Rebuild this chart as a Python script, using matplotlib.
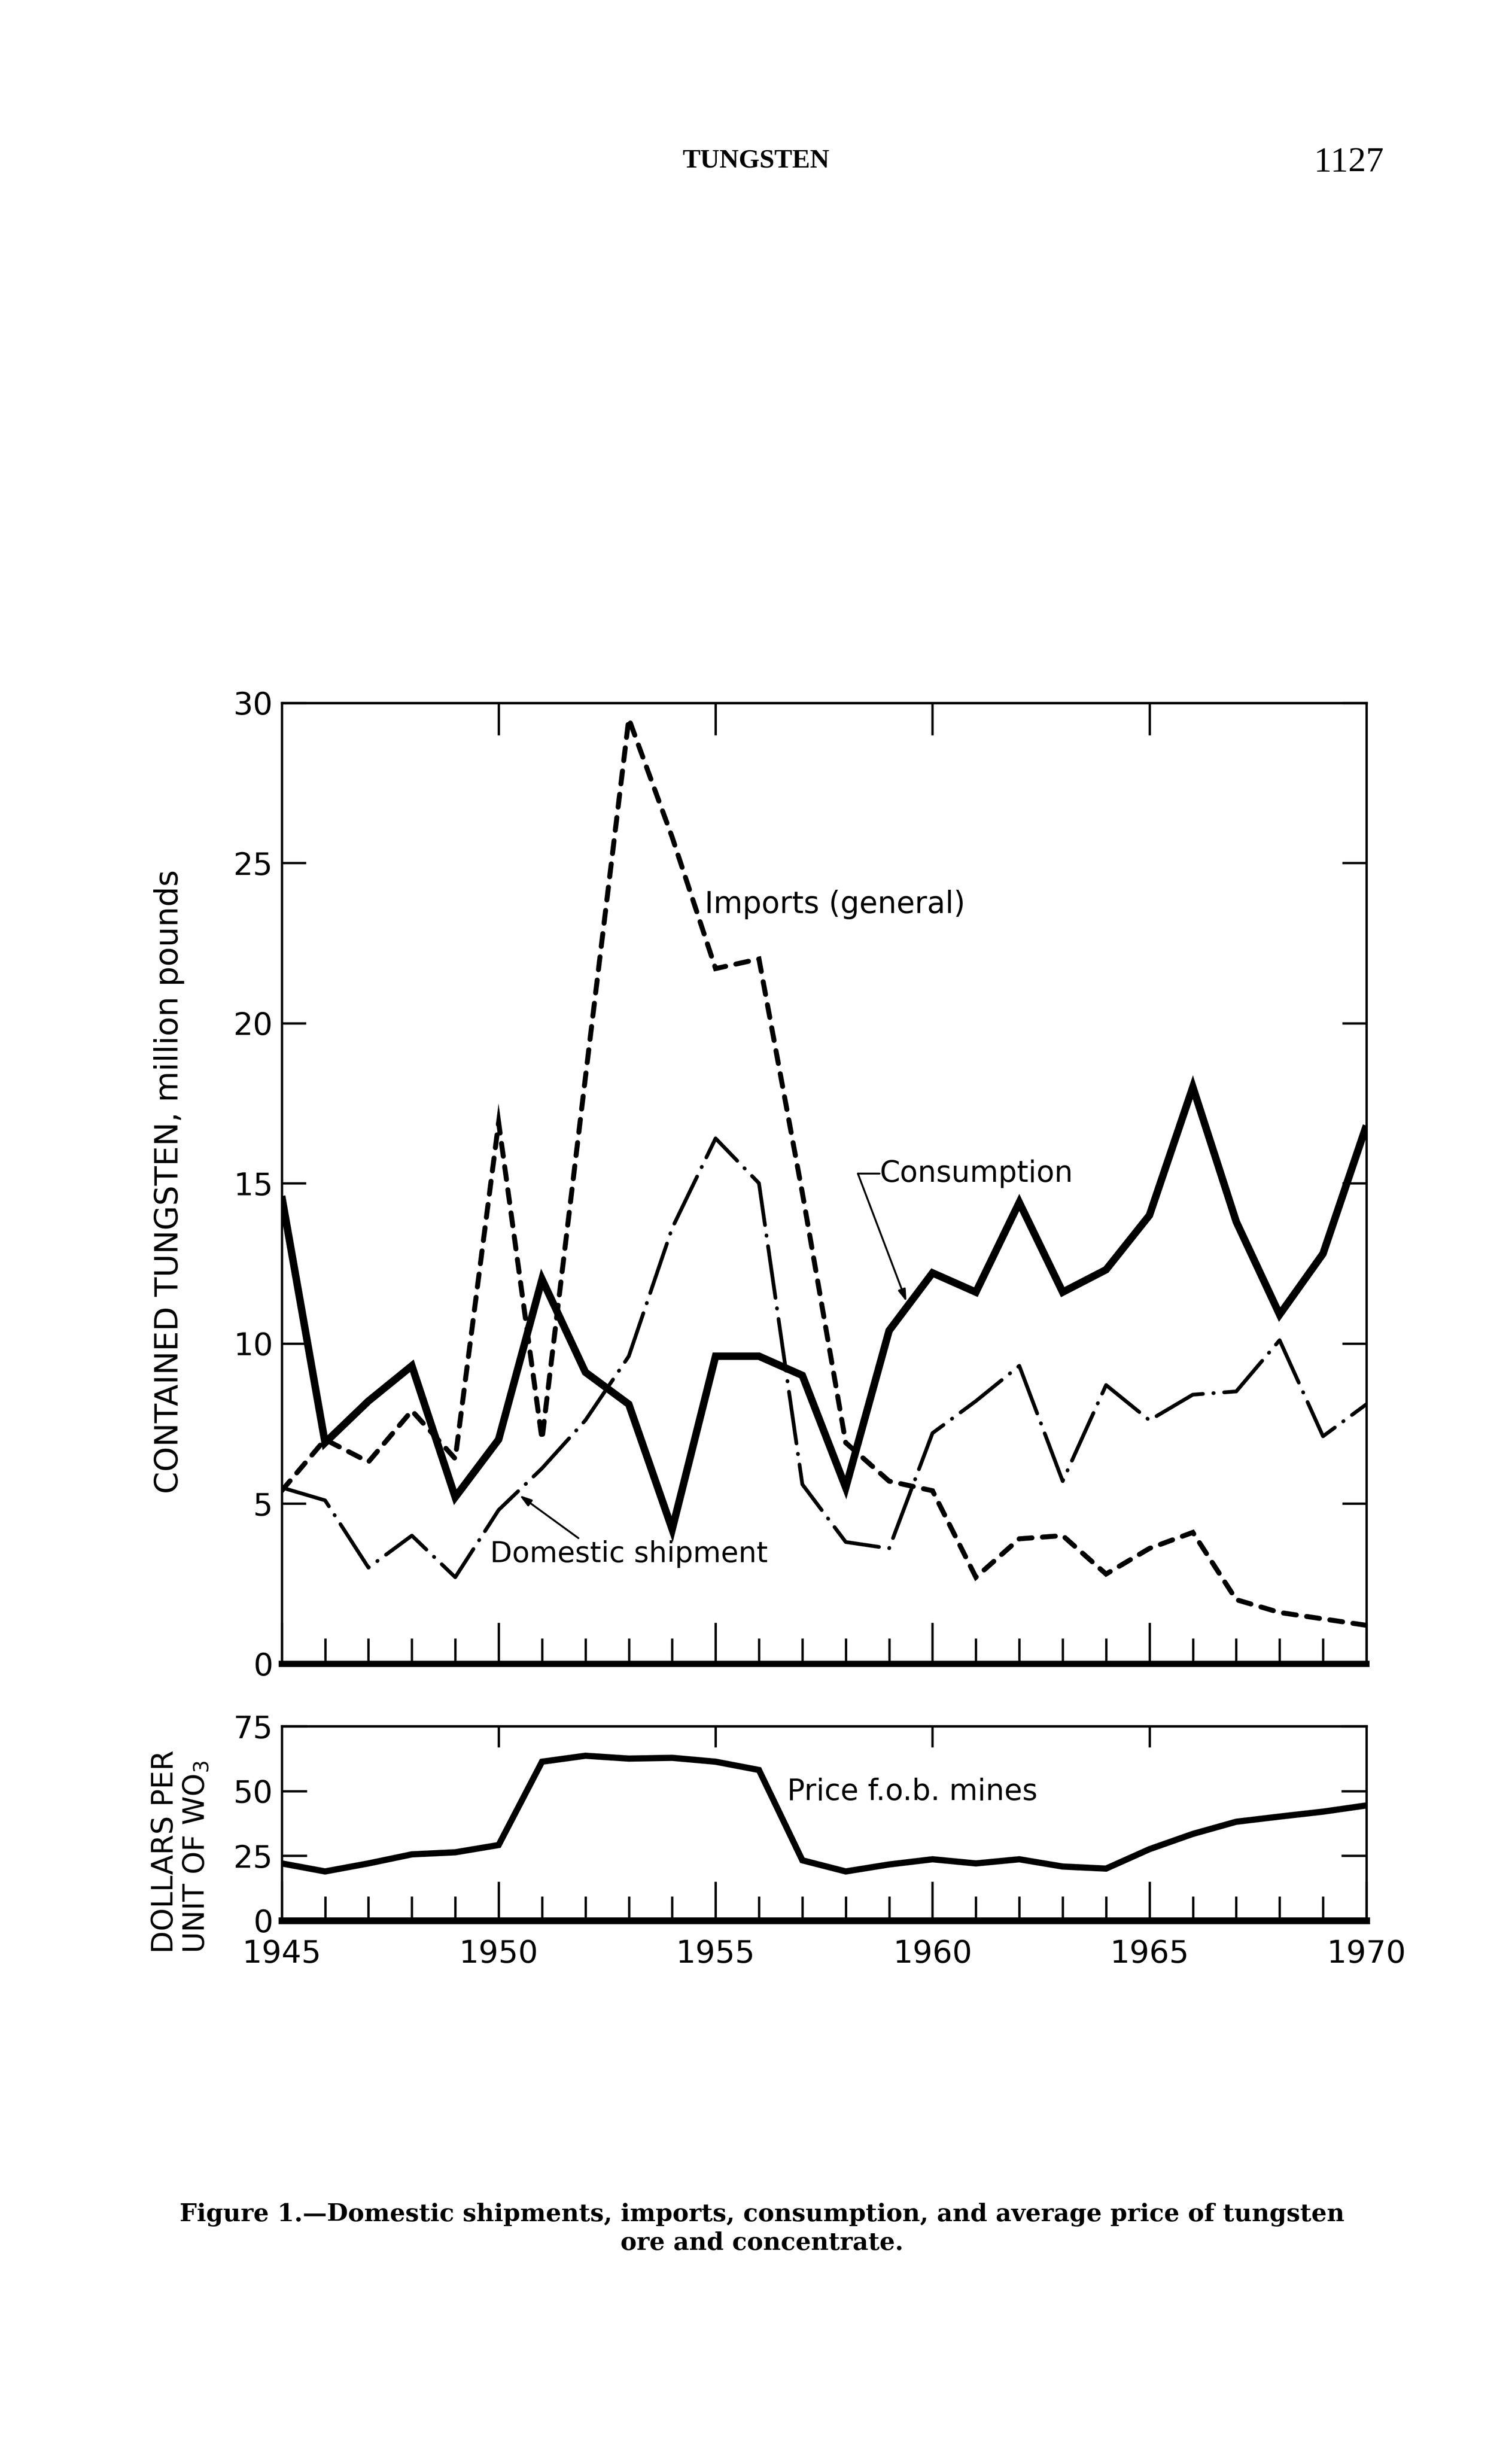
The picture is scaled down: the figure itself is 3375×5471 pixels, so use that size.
import matplotlib
matplotlib.use("Agg")
import matplotlib.pyplot as plt
from matplotlib.ticker import MultipleLocator, FixedLocator, NullLocator

# ---------------- data ----------------
years = list(range(1945, 1971))
consumption = [14.6, 6.9, 8.2, 9.3, 5.2, 7.0, 12.0, 9.1, 8.1, 4.2, 9.6, 9.6, 9.0,
               5.5, 10.4, 12.2, 11.6, 14.4, 11.6, 12.3, 14.0, 18.0, 13.8, 10.9, 12.8, 16.8]
imports_general = [5.4, 7.0, 6.3, 7.9, 6.4, 16.9, 7.0, 18.3, 29.5, 25.8, 21.7, 22.0, 14.7,
                   6.9, 5.7, 5.4, 2.7, 3.9, 4.0, 2.8, 3.6, 4.1, 2.0, 1.6, 1.4, 1.2]
domestic_shipments = [5.5, 5.1, 3.0, 4.0, 2.7, 4.8, 6.1, 7.6, 9.6, 13.6, 16.4, 15.0, 5.6,
                      3.8, 3.6, 7.2, 8.2, 9.3, 5.7, 8.7, 7.6, 8.4, 8.5, 10.1, 7.1, 8.1]
price = [22.0, 18.9, 22.0, 25.5, 26.3, 29.1, 61.3, 63.6, 62.5, 62.8, 61.3, 58.1, 23.2,
         18.9, 21.6, 23.6, 22.0, 23.6, 20.8, 20.0, 27.5, 33.4, 38.1, 40.1, 42.0, 44.4]

main_yticks = [0, 5, 10, 15, 20, 25, 30]
price_yticks = [0, 25, 50, 75]
top_xticks = [1950, 1955, 1960, 1965]
label_years = [1945, 1950, 1955, 1960, 1965, 1970]

SANS = "DejaVu Sans"
SERIF = "Liberation Serif"

fig = plt.figure(figsize=(33.75, 54.71), dpi=100)
fig.patch.set_facecolor("white")

ax = fig.add_axes([0.1863, 0.3212, 0.7174, 0.3921])
ax2 = fig.add_axes([0.1863, 0.2165, 0.7174, 0.0792])

SPW = 3.8
# ---------------- main panel ----------------
ax.plot(years, consumption, color="black", lw=12, solid_joinstyle="miter",
        solid_capstyle="butt")
ax.plot(years, imports_general, color="black", lw=8, linestyle=(0, (2.6, 2.1)),
        dash_capstyle="round", dash_joinstyle="miter")
ax.plot(years, domestic_shipments, color="black", lw=6,
        linestyle=(0, (14, 2.8, 0.1, 2.8)), dash_capstyle="round")

ax.set_xlim(1945, 1970)
ax.set_ylim(0, 30)
for s in ["left", "right", "top"]:
    ax.spines[s].set_linewidth(SPW)
ax.spines["bottom"].set_linewidth(10)

ax.xaxis.set_major_locator(MultipleLocator(5))
ax.xaxis.set_minor_locator(MultipleLocator(1))
ax.tick_params(axis="x", which="major", direction="in", length=66, width=SPW,
               bottom=True, top=False, labelbottom=False)
ax.tick_params(axis="x", which="minor", direction="in", length=41, width=SPW,
               bottom=True, top=False)
ax.yaxis.set_major_locator(FixedLocator(main_yticks))
ax.set_yticklabels([str(v) for v in main_yticks])
ax.tick_params(axis="y", which="major", direction="in", length=39, width=SPW,
               left=True, right=True, labelsize=50, pad=14)

secx = ax.secondary_xaxis("top")
secx.xaxis.set_major_locator(FixedLocator(top_xticks))
secx.xaxis.set_minor_locator(NullLocator())
secx.tick_params(axis="x", direction="in", length=52, width=SPW, labeltop=False)
secx.spines["top"].set_linewidth(SPW)

# annotations
ax.text(1954.75, 23.7, "Imports (general)", fontsize=48, family=SANS,
        ha="left", va="center")
ax.text(1958.78, 15.3, "Consumption", fontsize=47, family=SANS,
        ha="left", va="center")
ax.annotate("", xy=(1959.4, 11.3), xytext=(1958.28, 15.3),
            arrowprops=dict(arrowstyle="-|>,head_length=1.6,head_width=0.5",
                            color="black", lw=3, shrinkA=0, shrinkB=0))
ax.annotate("", xy=(1958.78, 15.3), xytext=(1958.28, 15.3),
            arrowprops=dict(arrowstyle="-", color="black", lw=3,
                            shrinkA=0, shrinkB=0))
ax.text(1949.8, 3.42, "Domestic shipment", fontsize=46, family=SANS,
        ha="left", va="center")
ax.annotate("", xy=(1950.48, 5.26), xytext=(1951.84, 3.92),
            arrowprops=dict(arrowstyle="-|>,head_length=1.6,head_width=0.5",
                            color="black", lw=3, shrinkA=0, shrinkB=0))

# ---------------- price panel ----------------
ax2.plot(years, price, color="black", lw=10, solid_joinstyle="miter")
ax2.set_xlim(1945, 1970)
ax2.set_ylim(0, 75)
for s in ["left", "right", "top"]:
    ax2.spines[s].set_linewidth(SPW)
ax2.spines["bottom"].set_linewidth(11)
ax2.xaxis.set_major_locator(FixedLocator(label_years))
ax2.xaxis.set_minor_locator(MultipleLocator(1))
ax2.set_xticklabels([str(v) for v in label_years])
ax2.tick_params(axis="x", which="major", direction="in", length=63, width=SPW,
                bottom=True, top=False, labelsize=50, pad=30)
ax2.tick_params(axis="x", which="minor", direction="in", length=39, width=SPW,
                bottom=True, top=False)
ax2.yaxis.set_major_locator(FixedLocator(price_yticks))
ax2.set_yticklabels([str(v) for v in price_yticks])
ax2.tick_params(axis="y", which="major", direction="in", length=40, width=SPW,
                left=True, right=True, labelsize=50, pad=14)
secx2 = ax2.secondary_xaxis("top")
secx2.xaxis.set_major_locator(FixedLocator(top_xticks))
secx2.xaxis.set_minor_locator(NullLocator())
secx2.tick_params(axis="x", direction="in", length=34, width=SPW, labeltop=False)
secx2.spines["top"].set_linewidth(SPW)

ax2.text(1956.65, 49.6, "Price f.o.b. mines", fontsize=47, family=SANS,
         ha="left", va="center")

# ---------------- axis titles ----------------
fig.text(0.1118, 0.5179, "CONTAINED TUNGSTEN, million pounds", rotation=90,
         fontsize=51, family=SANS, ha="center", va="center")
fig.text(0.1090, 0.2030, "DOLLARS PER", rotation=90, rotation_mode="anchor",
         fontsize=47, family=SANS, ha="left", va="center")
fig.text(0.1300, 0.2030, "UNIT OF WO$_3$", rotation=90, rotation_mode="anchor",
         fontsize=47, family=SANS, ha="left", va="center")

# ---------------- page header & caption ----------------
fig.text(0.5, 0.9342, "TUNGSTEN", fontsize=43, family=SERIF, weight="bold",
         ha="center", va="center")
fig.text(0.915, 0.9336, "1127", fontsize=57, family=SERIF,
         ha="right", va="center")
fig.text(0.504, 0.0964,
         "Figure 1.\u2014Domestic shipments, imports, consumption, and average price of tungsten",
         fontsize=39, family="DejaVu Serif", weight="bold", ha="center", va="center")
fig.text(0.504, 0.0849, "ore and concentrate.", fontsize=39, family="DejaVu Serif",
         weight="bold", ha="center", va="center")

fig.savefig("out.png", dpi=100, facecolor="white")
